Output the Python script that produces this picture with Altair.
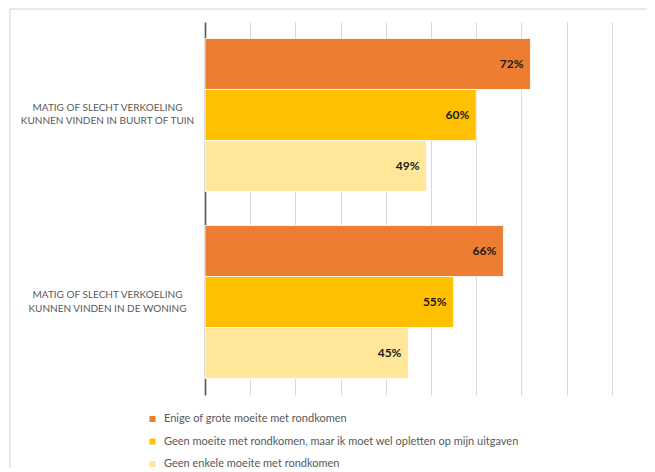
import altair as alt
import pandas as pd

categories = [
    "MATIG OF SLECHT VERKOELING\nKUNNEN VINDEN IN BUURT OF TUIN",
    "MATIG OF SLECHT VERKOELING\nKUNNEN VINDEN IN DE WONING",
]
series = [
    "Enige of grote moeite met rondkomen",
    "Geen moeite met rondkomen, maar ik moet wel opletten op mijn uitgaven",
    "Geen enkele moeite met rondkomen",
]
colors = ["#ED7D31", "#FFC000", "#FFE699"]
values_tuin = [0.72, 0.60, 0.49]
values_woning = [0.66, 0.55, 0.45]
grid_values = [0.1, 0.2, 0.3, 0.4, 0.5, 0.6, 0.7, 0.8, 0.9]

rows = []
for s, v in zip(series, values_tuin):
    rows.append({"cat": categories[0], "series": s, "value": v})
for s, v in zip(series, values_woning):
    rows.append({"cat": categories[1], "series": s, "value": v})
df = pd.DataFrame(rows)

FONT = "Lato"

x_enc = alt.X(
    "value:Q",
    scale=alt.Scale(domain=[0, 0.96], nice=False, zero=True),
    axis=alt.Axis(
        values=grid_values, labels=False, ticks=False, domain=False, title=None,
        grid=True, gridColor="#d9d9d9", gridWidth=1,
    ),
)
y_enc = alt.Y(
    "cat:N",
    sort=categories,
    scale=alt.Scale(paddingInner=0.182, paddingOuter=0.088),
    axis=alt.Axis(
        title=None, ticks=False, domain=True, domainColor="#555555", domainWidth=1.6,
        labelAlign="center", labelPadding=98, labelFont=FONT, labelFontSize=10,
        labelColor="#595959", labelLineHeight=13.5, labelBaseline="middle",
        labelOffset=-7,
        labelExpr="split(datum.label, '\\n')", grid=False, labelLimit=300,
    ),
)
yoff = alt.YOffset("series:N", sort=series, scale=alt.Scale(paddingInner=0, paddingOuter=0))

base = alt.Chart(df)

bars = base.mark_bar(stroke="white", strokeWidth=0.8).encode(
    x=x_enc,
    y=y_enc,
    yOffset=yoff,
    color=alt.Color(
        "series:N",
        sort=series,
        scale=alt.Scale(domain=series, range=colors),
        legend=alt.Legend(
            orient="none", legendX=-58, legendY=391.5, title=None, padding=0,
            symbolType="square", symbolSize=36, symbolStrokeWidth=0,
            labelFont=FONT, labelFontSize=11, labelColor="#595959",
            rowPadding=10.5, labelOffset=6, labelLimit=500, direction="vertical",
        ),
    ),
)

labels = base.mark_text(
    align="right", baseline="middle", dx=-7, font=FONT, fontSize=12,
    fontWeight="bold", color="#1a1a1a",
).encode(
    x=alt.X("value:Q"),
    y=alt.Y("cat:N", sort=categories),
    yOffset=yoff,
    text=alt.Text("value:Q", format=".0%"),
)

border_top = alt.Chart(pd.DataFrame({"a": [0]})).mark_rule(color="#d0d0d0", strokeWidth=1).encode(
    x=alt.value(-195), x2=alt.value(600), y=alt.value(-13)
)
border_left = alt.Chart(pd.DataFrame({"a": [0]})).mark_rule(color="#d0d0d0", strokeWidth=1).encode(
    x=alt.value(-195), y=alt.value(-13), y2=alt.value(600)
)

chart = (
    alt.layer(border_top, border_left, bars, labels)
    .properties(
        width=434,
        height=373,
        background="white",
        autosize=alt.AutoSizeParams(type="none"),
        padding={"left": 197, "top": 14, "right": 8, "bottom": 73},
    )
    .configure_view(stroke="transparent", strokeWidth=0)
)

chart.save("out.html", embed_options={"renderer": "svg", "actions": False})
